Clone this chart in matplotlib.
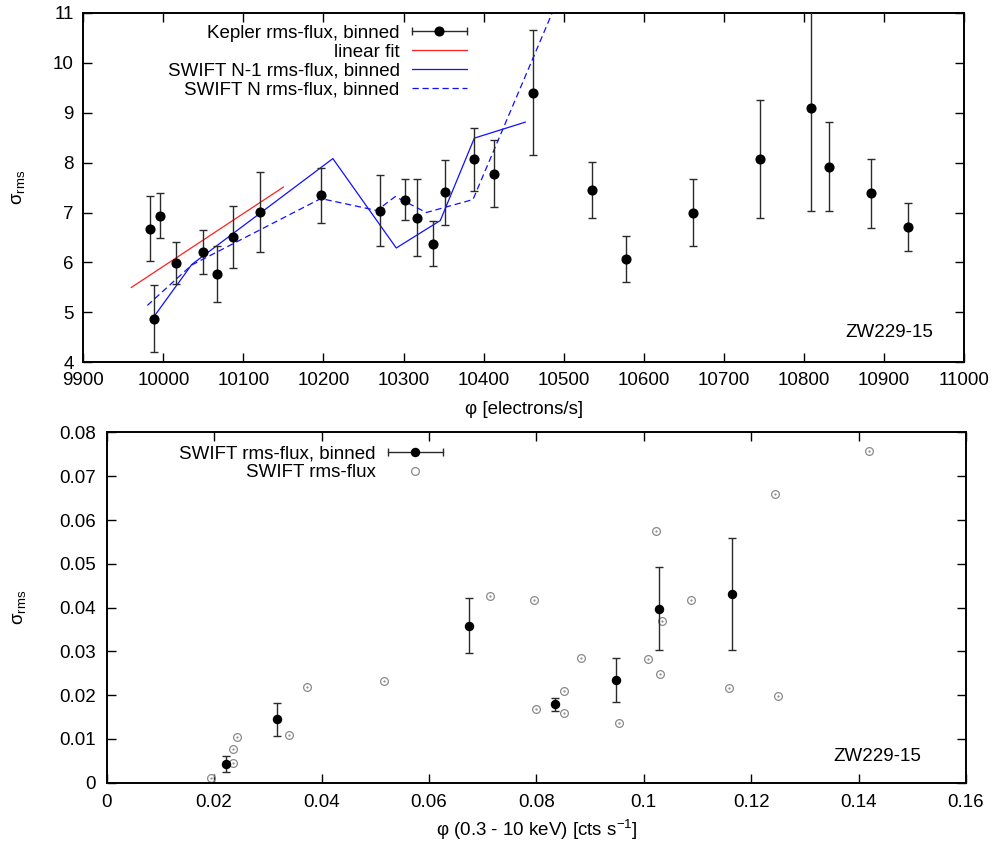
import matplotlib
matplotlib.use("Agg")
import matplotlib.pyplot as plt
from matplotlib.container import ErrorbarContainer
from matplotlib.legend_handler import HandlerBase
from matplotlib.lines import Line2D

plt.rcParams['font.family'] = ['Liberation Sans', 'DejaVu Sans']
plt.rcParams['mathtext.fontset'] = 'custom'
plt.rcParams['mathtext.rm'] = 'Liberation Sans'
plt.rcParams['mathtext.it'] = 'Liberation Sans:italic'
plt.rcParams['font.size'] = 13.5

# ---------------- data: top panel (Kepler) ----------------
kep_x = [9983.8, 9995.9, 9988.0, 10015.9, 10049.6, 10066.7, 10087.0, 10121.0,
         10196.7, 10270.9, 10302.0, 10316.7, 10336.7, 10351.7, 10388.4, 10413.4,
         10461.3, 10535.9, 10578.0, 10662.0, 10745.0, 10808.8, 10832.0, 10883.8,
         10929.6]
kep_y = [6.675, 6.935, 4.873, 5.99, 6.21, 5.76, 6.515, 7.015,
         7.35, 7.035, 7.256, 6.90, 6.375, 7.41, 8.07, 7.78,
         9.40, 7.45, 6.07, 7.00, 8.07, 9.10, 7.92, 7.39,
         6.71]
kep_err = [0.65, 0.45, 0.675, 0.425, 0.45, 0.56, 0.625, 0.80,
           0.55, 0.71, 0.415, 0.78, 0.45, 0.65, 0.63, 0.67,
           1.255, 0.555, 0.46, 0.675, 1.18, 2.07, 0.885, 0.69,
           0.475]

fit_x = [9960, 10150]
fit_y = [5.50, 7.51]

swn1_x = [9988, 10035.5, 10211.7, 10290.9, 10345.9, 10388.4, 10452]
swn1_y = [4.91, 5.96, 8.08, 6.29, 6.84, 8.49, 8.81]

swn_x = [9980, 10035.5, 10196.7, 10266.7, 10289.6, 10328.4, 10386.7, 10500]
swn_y = [5.14, 5.95, 7.28, 7.04, 7.32, 7.00, 7.26, 11.54]

# ---------------- data: bottom panel (SWIFT) ----------------
sw_bx = [0.0222, 0.0318, 0.0675, 0.0834, 0.0948, 0.1029, 0.1164]
sw_by = [0.00434, 0.01449, 0.03589, 0.01791, 0.02347, 0.03977, 0.04313]
sw_berr = [0.00183, 0.00374, 0.00636, 0.00152, 0.00492, 0.00956, 0.01287]

sw_x = [0.0195, 0.0236, 0.0236, 0.0243, 0.0340, 0.0373, 0.0516, 0.0713,
        0.0795, 0.0800, 0.0851, 0.0851, 0.0883, 0.0953, 0.1008, 0.1022,
        0.1034, 0.1031, 0.1088, 0.1158, 0.1245, 0.1250, 0.1420]
sw_y = [0.00114, 0.00457, 0.00763, 0.01051, 0.0109, 0.02187, 0.02325, 0.04274,
        0.04176, 0.01678, 0.02103, 0.0160, 0.0285, 0.01358, 0.02834, 0.05753,
        0.03703, 0.02485, 0.04183, 0.02158, 0.06606, 0.01975, 0.07566]

top_xticks = list(range(9900, 11001, 100))
top_yticks = list(range(4, 12))
bot_xticks = [0, 0.02, 0.04, 0.06, 0.08, 0.1, 0.12, 0.14, 0.16]
bot_xlabels = ['0', '0.02', '0.04', '0.06', '0.08', '0.1', '0.12', '0.14', '0.16']
bot_yticks = [0, 0.01, 0.02, 0.03, 0.04, 0.05, 0.06, 0.07, 0.08]
bot_ylabels = ['0', '0.01', '0.02', '0.03', '0.04', '0.05', '0.06', '0.07', '0.08']

ebc = '#2a2a2a'


class HandlerHErr(HandlerBase):
    """gnuplot-style key sample: horizontal error bar with caps and a dot."""
    def __init__(self, ms):
        super().__init__()
        self.ms = ms

    def create_artists(self, legend, orig_handle, xdescent, ydescent,
                       width, height, fontsize, trans):
        y = (height - ydescent) / 2.0
        x0, x1 = -xdescent, width - xdescent
        bar = Line2D([x0, x1], [y, y], color=ebc, lw=1.0)
        caps = Line2D([x0, x1], [y, y], ls='none', marker='|', ms=6.4,
                      mew=1.0, color=ebc)
        dot = Line2D([(x0 + x1) / 2.0], [y], ls='none', marker='o',
                     ms=self.ms, color='black')
        for a in (bar, caps, dot):
            a.set_transform(trans)
        return [bar, caps, dot]


fig = plt.figure(figsize=(10, 8.46), dpi=100)
ax1 = fig.add_axes([0.0833, 0.5717, 0.8807, 0.4132])
ax2 = fig.add_axes([0.1067, 0.0748, 0.8593, 0.4140])

def style(ax, pad):
    for s in ax.spines.values():
        s.set_linewidth(1.4)
    ax.tick_params(direction='in', length=6.5, width=1.0, top=True, right=True,
                   pad=pad, labelsize=13.5)

# ---- top panel ----
h_kep = ax1.errorbar(kep_x, kep_y, yerr=kep_err, fmt='o', color='black', ms=6.3,
                     ecolor=ebc, elinewidth=1.0, capsize=3.2, capthick=1.0,
                     zorder=3, label='Kepler rms-flux, binned')
h_fit, = ax1.plot(fit_x, fit_y, color='#ff2020', lw=0.9, label='linear fit')
h_n1, = ax1.plot(swn1_x, swn1_y, color='#1010ff', lw=0.9,
                 label='SWIFT N-1 rms-flux, binned')
h_n, = ax1.plot(swn_x, swn_y, color='#1010ff', lw=0.9, dashes=(5, 3),
                label='SWIFT N rms-flux, binned')
ax1.set_xlim(9900, 11000)
ax1.set_ylim(4, 11)
ax1.set_xticks(top_xticks)
ax1.set_yticks(top_yticks)
style(ax1, 7)
ax1.set_xlabel('φ [electrons/s]', labelpad=8.5)
ax1.set_ylabel('σ$_{\\mathrm{rms}}$')
ax1.yaxis.set_label_coords(-0.064, 0.5)
ax1.text(0.965, 0.084, 'ZW229-15', transform=ax1.transAxes, ha='right',
         va='center', fontsize=13.5)
fig.legend(handles=[h_kep, h_fit, h_n1, h_n], loc='upper right',
           bbox_to_anchor=(0.467, 0.971), frameon=False, markerfirst=False,
           handlelength=2.95, handletextpad=0.65, labelspacing=0.1,
           borderpad=0, borderaxespad=0, fontsize=13.5,
           handler_map={ErrorbarContainer: HandlerHErr(6.3)})

# ---- bottom panel ----
ax2.plot(sw_x, sw_y, 'o', mfc='none', mec='#8a8a8a', mew=0.9, ms=5.6, zorder=2)
ax2.plot(sw_x, sw_y, '.', color='#8a8a8a', ms=1.2, zorder=2)
h_sb = ax2.errorbar(sw_bx, sw_by, yerr=sw_berr, fmt='o', color='black', ms=5.8,
                    ecolor=ebc, elinewidth=1.0, capsize=3.2, capthick=1.0,
                    zorder=3, label='SWIFT rms-flux, binned')
h_s = Line2D([], [], ls='none', marker='o', mfc='none', mec='#8a8a8a',
             mew=0.9, ms=5.6, label='SWIFT rms-flux')
ax2.set_xlim(0, 0.16)
ax2.set_ylim(0, 0.08)
ax2.set_xticks(bot_xticks, bot_xlabels)
ax2.set_yticks(bot_yticks, bot_ylabels)
style(ax2, 8)
ax2.set_xlabel('φ (0.3 - 10 keV) [cts s$^{-1}$]', labelpad=5)
ax2.set_ylabel('σ$_{\\mathrm{rms}}$')
ax2.yaxis.set_label_coords(-0.0916, 0.5)
ax2.text(0.9477, 0.074, 'ZW229-15', transform=ax2.transAxes, ha='right',
         va='center', fontsize=13.5)
fig.legend(handles=[h_sb, h_s], loc='upper right',
           bbox_to_anchor=(0.443, 0.474), frameon=False, markerfirst=False,
           handlelength=2.95, handletextpad=0.65, labelspacing=0.1,
           borderpad=0, borderaxespad=0, fontsize=13.5,
           handler_map={ErrorbarContainer: HandlerHErr(5.8)})

fig.savefig('out.png', dpi=100)
